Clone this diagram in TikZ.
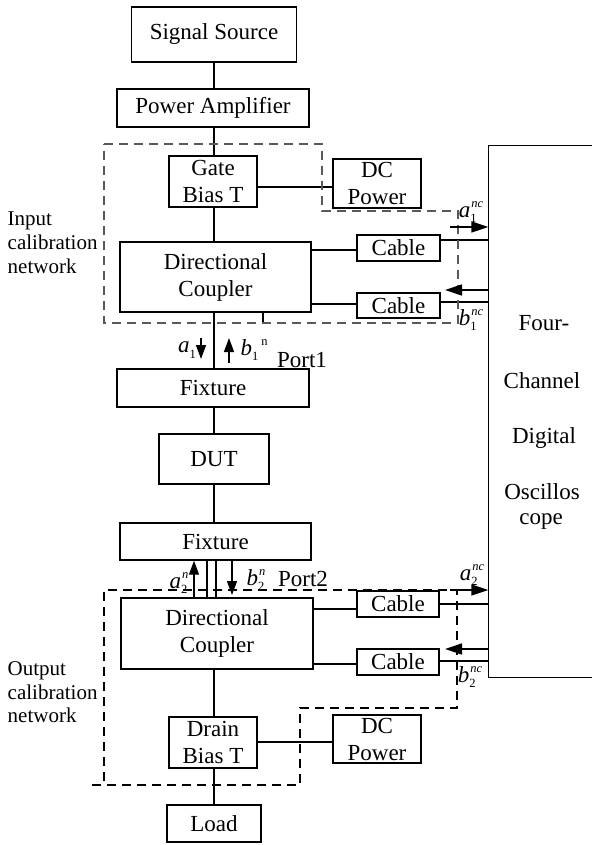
\documentclass[tikz,border=0pt]{standalone}
\usepackage{fontspec}
\setmainfont{Liberation Serif}
\usetikzlibrary{arrows.meta}
\newcommand{\mainfs}{\fontsize{23}{27}\selectfont}
\newcommand{\sidefs}{\fontsize{21}{24}\selectfont}
\newcommand{\smfs}{\fontsize{12.5}{12.5}\selectfont}
\newcommand{\abl}[3]{\textit{#1}\rlap{\raisebox{-0.5ex}{\smfs #2}}\hspace{1pt}\raisebox{0.9ex}{\smfs\textit{#3}}}
\begin{document}
\begin{tikzpicture}[x=1pt,y=-1pt,line width=1.4pt,
  box/.style={draw, line width=1.4pt, inner sep=0pt, align=center, font=\mainfs},
  txt/.style={inner sep=0pt, font=\mainfs},
  side/.style={inner sep=0pt, font=\sidefs},
  lab/.style={inner sep=0pt, font=\mainfs},
  bigarrow/.style={line width=1.4pt, -{Triangle[length=17pt,width=11pt]}},
  parrow/.style={line width=1.4pt, -{Triangle[length=14pt,width=10pt]}},
  dashbox/.style={line width=1.3pt, dash pattern=on 9pt off 6pt}]
\useasboundingbox (0,0) rectangle (591,845);

% boxes
\node[box, minimum width=165pt, minimum height=55pt] (sig) at (214,34.5) {Signal Source};
\node[box, minimum width=192pt, minimum height=38pt] (pa) at (213,108) {Power Amplifier};
\node[box, minimum width=88pt, minimum height=51pt] (gbt) at (213,181.5) {Gate\\Bias T};
\node[box, minimum width=88pt, minimum height=49pt] (dc1) at (377,183.5) {DC\\Power};
\node[box, minimum width=191pt, minimum height=70pt] (dcp1) at (215.5,277) {Directional\\Coupler};
\node[box, minimum width=83pt, minimum height=26pt] (cab1) at (398.5,248) {Cable};
\node[box, minimum width=83pt, minimum height=25pt] (cab2) at (398.5,305.5) {Cable};
\node[box, minimum width=192pt, minimum height=38pt] (fix1) at (213,388) {Fixture};
\node[box, minimum width=110pt, minimum height=50pt] (dut) at (214,459) {DUT};
\node[box, minimum width=191pt, minimum height=37pt] (fix2) at (215.5,541.5) {Fixture};
\node[box, minimum width=192pt, minimum height=71pt] (dcp2) at (217,633.5) {Directional\\Coupler};
\node[box, minimum width=82pt, minimum height=26pt] (cab3) at (398,604) {Cable};
\node[box, minimum width=82pt, minimum height=26pt] (cab4) at (398,662) {Cable};
\node[box, minimum width=88pt, minimum height=51pt] (dbt) at (213,742.5) {Drain\\Bias T};
\node[box, minimum width=88pt, minimum height=48pt] (dc2) at (377,739) {DC\\Power};
\node[box, minimum width=94pt, minimum height=37pt] (load) at (214,823.5) {Load};

% oscilloscope
\node[inner sep=0pt, minimum width=102pt, minimum height=531pt] (scope) at (540,411.5) {};
\draw (scope.north east) -- (scope.north west) -- (scope.south west) -- (scope.south east);
\node[txt, anchor=base] (s1) at (544,330) {Four-};
\node[txt, anchor=base] (s2) at (542,388) {Channel};
\node[txt, anchor=base] (s3) at (544,443) {Digital};
\node[txt, anchor=base] (s4) at (542,499) {Oscillos};
\node[txt, anchor=base] (s5) at (541,524) {cope};

% side labels
\node[side, anchor=base west] (in1) at (7,225) {Input};
\node[side, anchor=base west] (in2) at (7,249) {calibration};
\node[side, anchor=base west] (in3) at (7,273) {network};
\node[side, anchor=base west] (out1) at (7,675) {Output};
\node[side, anchor=base west] (out2) at (7,699) {calibration};
\node[side, anchor=base west] (out3) at (7,722) {network};

% helper coordinates
\coordinate (mx) at (214,0);
\coordinate (p2a) at (207,0);
\coordinate (p2b) at (216,0);
\coordinate (r187) at (0,187);
\coordinate (r250) at (0,250);
\coordinate (r240) at (0,240);
\coordinate (r304) at (0,304);
\coordinate (r302) at (0,302);
\coordinate (r609) at (0,609);
\coordinate (r604) at (0,604);
\coordinate (r664) at (0,664);
\coordinate (r661) at (0,661);
\coordinate (r742) at (0,742);

% main column
\draw (sig.south -| mx) -- (pa.north -| mx);
\draw (pa.south -| mx) -- (gbt.north -| mx);
\draw (gbt.south -| mx) -- (dcp1.north -| mx);
\draw (dcp1.south -| mx) -- (fix1.north -| mx);
\draw (fix1.south -| mx) -- (dut.north -| mx);
\draw (dut.south -| mx) -- (fix2.north -| mx);
\draw (fix2.south -| p2a) -- (dcp2.north -| p2a);
\draw (fix2.south -| p2b) -- (dcp2.north -| p2b);
\draw (dcp2.south -| mx) -- (dbt.north -| mx);
\draw (dbt.south -| mx) -- (load.north -| mx);

% side connections
\draw (gbt.east |- r187) -- (dc1.west |- r187);
\draw (dbt.east |- r742) -- (dc2.west |- r742);
\draw (dcp1.east |- r250) -- (cab1.west |- r250);
\draw (cab1.east |- r240) -- (scope.west |- r240);
\draw (dcp1.east |- r304) -- (cab2.west |- r304);
\draw (cab2.east |- r302) -- (scope.west |- r302);
\draw (dcp2.east |- r609) -- (cab3.west |- r609);
\draw (cab3.east |- r604) -- (scope.west |- r604);
\draw (dcp2.east |- r664) -- (cab4.west |- r664);
\draw (cab4.east |- r661) -- (scope.west |- r661);

% tick
\coordinate (tk) at (263,323);
\draw (dcp1.south -| tk) -- (tk);

% dashed calibration networks
\draw[dashbox, black!65] (104,144) -- (322,144) -- (322,211) -- (458,211) -- (458,323) -- (104,323) -- cycle;
\draw[dashbox] (92,785) -- (300,785) -- (300,708) -- (457,708) -- (457,590) -- (104,590) -- (104,785);

% wave arrows at scope
\coordinate (a1s) at (450,227);
\coordinate (b1e) at (445,290);
\coordinate (a2s) at (450,590);
\coordinate (b2e) at (445,649);
\draw[bigarrow] (a1s) -- (scope.west |- a1s);
\draw[bigarrow] (scope.west |- b1e) -- (b1e);
\draw[bigarrow] (a2s) -- (scope.west |- a2s);
\draw[bigarrow] (scope.west |- b2e) -- (b2e);

% port arrows
\coordinate (a1t) at (201,338);
\coordinate (a1b) at (201,359);
\coordinate (b1b) at (229,363);
\coordinate (b1t) at (229,338);
\draw[parrow] (a1t) -- (a1b);
\draw[parrow] (b1b) -- (b1t);
\coordinate (a2x) at (194,0);
\coordinate (b2x) at (232,0);
\coordinate (b2b) at (232,595);
\draw[parrow] (dcp2.north -| a2x) -- (fix2.south -| a2x);
\draw[parrow] (fix2.south -| b2x) -- (b2b);

% labels
\node[lab] (la1nc) at (471,212) {\abl{a}{1}{nc}};
\node[lab] (lb1nc) at (471,320) {\abl{b}{1}{nc}};
\node[lab] (la2nc) at (472,575) {\abl{a}{2}{nc}};
\node[lab] (lb2nc) at (470,677) {\abl{b}{2}{nc}};
\node[lab] (la1) at (187,350) {\textit{a}\raisebox{-0.5ex}{\smfs 1}};
\node[lab] (lb1) at (254,350) {\textit{b}\raisebox{-0.5ex}{\smfs 1}\hspace{3pt}\raisebox{0.9ex}{\smfs n}};
\node[lab] (lp1) at (302,360) {Port1};
\node[lab] (la2) at (179,583) {\abl{a}{2}{n}};
\node[lab] (lb2) at (256,580) {\abl{b}{2}{n}};
\node[lab] (lp2) at (303,579) {Port2};
\end{tikzpicture}
\end{document}
